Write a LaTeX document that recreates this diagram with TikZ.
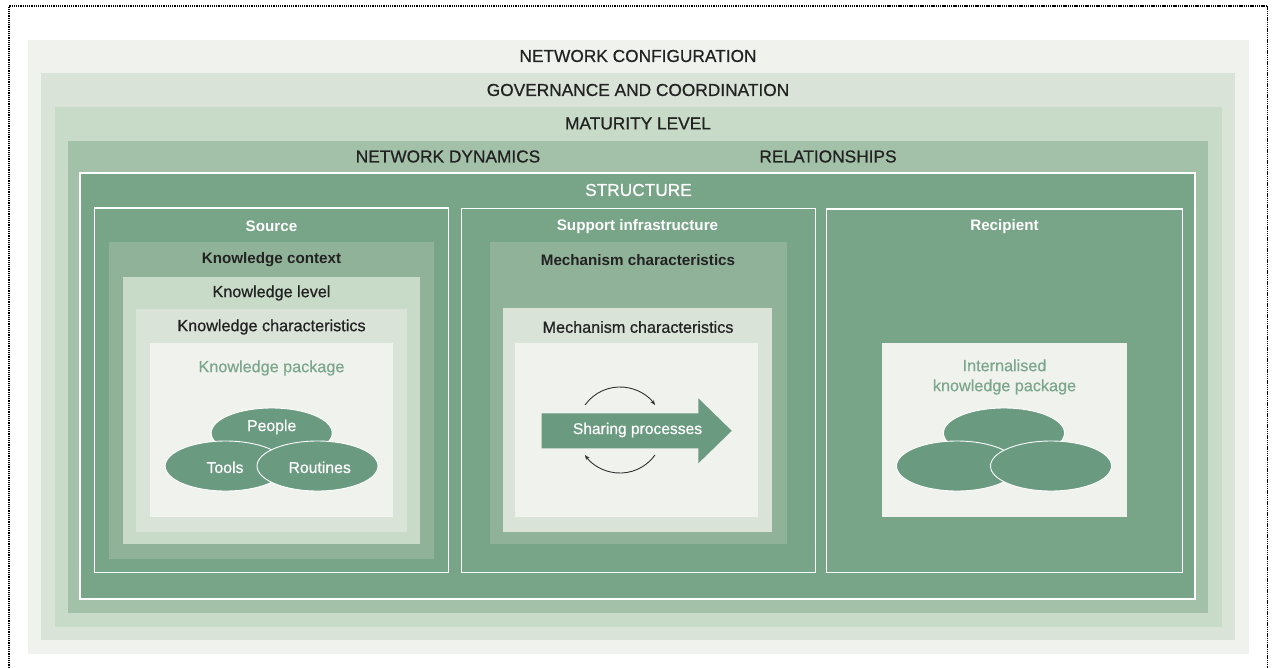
\documentclass[tikz,border=0pt]{standalone}
\usepackage{fontspec}
\setmainfont{Liberation Sans}
% a slightly heavier upright for the regular labels
\newfontfamily\medfont[FakeBold=0.6]{Liberation Sans}
\usetikzlibrary{shapes.geometric,arrows.meta}

% palette, from the outermost ring inwards
\definecolor{ringA}{HTML}{F0F2EE}
\definecolor{ringB}{HTML}{D9E3D8}
\definecolor{ringC}{HTML}{C8DAC8}
\definecolor{ringD}{HTML}{A3C0A8}
\definecolor{core}{HTML}{78A488}
\definecolor{midgreen}{HTML}{8FB298}
\definecolor{blobgreen}{HTML}{6A9A80}
\definecolor{softtext}{HTML}{7DA78C}
\definecolor{ink}{HTML}{222222}
\definecolor{loopink}{HTML}{333333}

% \panelbox{name}{x1}{y1}{x2}{y2}{style}: a box given by its corners (y grows downwards)
\newcommand{\panelbox}[6]{%
  \node[#6, anchor=north west, minimum width={(#4-#2)*1pt}, minimum height={(#5-#3)*1pt}] (#1) at (#2,#3) {};}

\begin{document}
\begin{tikzpicture}[x=1pt, y=1pt, yscale=-1,
  panel/.style={inner sep=0, outer sep=0, draw=none},
  frame/.style={inner sep=0, outer sep=0, draw=white, line width=1.2pt},
  caps/.style={font=\medfont\fontsize{17.3}{20}\selectfont, text=ink, inner sep=0},
  plain/.style={font=\medfont\fontsize{16.2}{20}\selectfont, text=ink, inner sep=0},
  heavy/.style={font=\bfseries\fontsize{15.2}{18}\selectfont, text=ink, inner sep=0},
  blobtext/.style={text=white, font=\medfont\fontsize{15.8}{18}\selectfont, inner sep=0},
  blob/.style={ellipse, fill=blobgreen, draw=white, line width=0.9pt,
    minimum width=121pt, minimum height=50pt, inner sep=0},
  cyclearrow/.style={draw=loopink, line width=0.9pt, -{Stealth[length=5pt,width=4pt]}}]

\useasboundingbox (0,0) rectangle (1276,667);

% dotted page frame
\draw[line width=1.3pt, dash pattern=on 1.3pt off 0.9pt] (9,670) -- (9,6) -- (1267.5,6) -- (1267.5,670);

% nested context rings
\panelbox{config}{28}{40}{1249}{654}{panel, fill=ringA}
\panelbox{governance}{40.7}{72.7}{1235}{640}{panel, fill=ringB}
\panelbox{maturity}{55}{107}{1221.7}{627}{panel, fill=ringC}
\panelbox{dynamics}{67.7}{141}{1207.7}{613}{panel, fill=ringD}
\panelbox{structure}{80}{173}{1195}{599}{frame, fill=core, line width=1.6pt}

\node[caps] (tConfig) at (638,56) {NETWORK CONFIGURATION};
\node[caps] (tGov) at (638,90) {GOVERNANCE AND COORDINATION};
\node[caps] (tMat) at (638,123.5) {MATURITY LEVEL};
\node[caps] (tDyn) at (448,156.5) {NETWORK DYNAMICS};
\node[caps] (tRel) at (828,156.5) {RELATIONSHIPS};
\node[caps, text=white] (tStruct) at (638.5,190) {STRUCTURE};

% ---- source column
\panelbox{source}{94.7}{208}{448.3}{572.7}{frame}
\panelbox{kcontext}{109}{242}{434}{559}{panel, fill=midgreen}
\panelbox{klevel}{123.3}{276.7}{420}{544.3}{panel, fill=ringC}
\panelbox{kchar}{136}{309}{407.3}{532}{panel, fill=ringB}
\panelbox{kpack}{150}{343.3}{392.7}{517.3}{panel, fill=ringA}

\node[heavy, text=white] (tSource) at (271.5,226.5) {Source};
\node[heavy] (tContext) at (271.5,260) {Knowledge context};
\node[plain] (tLevel) at (271.5,293) {Knowledge level};
\node[plain] (tChar) at (271.5,327) {Knowledge characteristics};
\node[plain, text=softtext] (tPack) at (271.5,368) {Knowledge package};

\node[blob] (people) at (271.7,433) {};
\node[blob] (tools) at (225.7,466) {};
\node[blob] (routines) at (317.5,466) {};
\node[blobtext] (tPeople) at (271.7,427) {People};
\node[blobtext] (tTools) at (225,467.3) {Tools};
\node[blobtext] (tRoutines) at (319.7,467.3) {Routines};

% ---- support infrastructure column
\panelbox{support}{461.7}{208.3}{815.7}{572.3}{frame}
\panelbox{mechA}{490}{242.3}{786.7}{544}{panel, fill=midgreen}
\panelbox{mechB}{502.7}{308.3}{772.3}{532.3}{panel, fill=ringB}
\panelbox{mechC}{515}{343.3}{757.7}{516.7}{panel, fill=ringA}

\node[heavy, text=white] (tSupport) at (637.5,227) {Support infrastructure};
\node[heavy] (tMechA) at (638,260) {Mechanism characteristics};
\node[plain] (tMechB) at (638,327) {Mechanism characteristics};

\fill[blobgreen] (541.7,413.3) -- (698.3,413.3) -- (698.3,398.3) -- (731.7,430.8)
  -- (698.3,463.3) -- (698.3,448.3) -- (541.7,448.3) -- cycle;
\node[blobtext, font=\medfont\fontsize{15.6}{18}\selectfont] (tShare) at (637.5,430) {Sharing processes};

\coordinate (loopTop) at (585,405);
\coordinate (loopBottom) at (655,455);
\draw[cyclearrow] (loopTop) arc[start angle=215.5, end angle=324.5, radius=43];
\draw[cyclearrow] (loopBottom) arc[start angle=35.5, end angle=144.5, radius=43];

% ---- recipient column
\panelbox{recipient}{826.7}{209}{1182.3}{572.3}{frame}
\panelbox{ipack}{882.3}{343.3}{1126.7}{517.3}{panel, fill=ringA}

\node[heavy, text=white] (tRecipient) at (1004.5,227) {Recipient};
\node[plain, text=softtext, align=center] (tInternal) at (1004.5,377) {Internalised\\knowledge package};

\node[blob] (rTop) at (1004,433) {};
\node[blob] (rLeft) at (957,466) {};
\node[blob] (rRight) at (1051,466) {};

\end{tikzpicture}
\end{document}
